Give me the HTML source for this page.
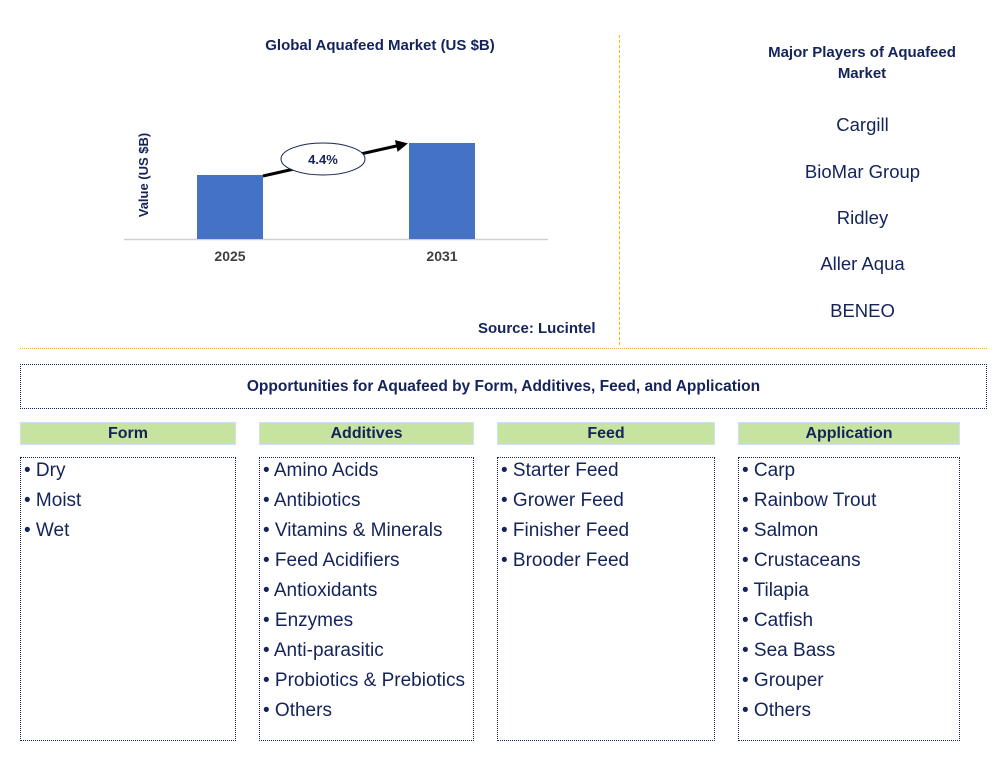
<!DOCTYPE html>
<html><head><meta charset="utf-8"><style>
body{margin:0;width:1007px;height:757px;background:#fff;font-family:"Liberation Sans",Arial,sans-serif;position:relative;overflow:hidden;color:#14235a}
.abs{position:absolute}
.hdr{position:absolute;top:422px;height:23px;background:#c6e3a0;border:1px solid #cfe2f3;box-sizing:border-box;font-weight:bold;font-size:16px;text-align:center;line-height:22px;color:#14235a}
.box{position:absolute;top:457px;height:284px;border:1.5px dotted #14235a;box-sizing:border-box;padding-top:0px}
.box div{font-size:19px;height:30px;line-height:25px;padding-left:3px;white-space:nowrap}
.pl{position:absolute;left:720px;width:285px;text-align:center;font-size:18.5px}
</style></head><body>
<div class="abs" style="left:200px;top:37px;width:360px;text-align:center;font-weight:bold;font-size:15px">Global Aquafeed Market (US $B)</div>
<svg class="abs" style="left:0;top:0" width="620" height="345">
<text x="148" y="175" transform="rotate(-90 148 175)" text-anchor="middle" font-weight="bold" font-size="13" fill="#14235a">Value (US $B)</text>
<line x1="124" y1="239.5" x2="548" y2="239.5" stroke="#d0d0d0" stroke-width="1.5"/>
<g id="bars"></g>
<text x="478" y="333" font-weight="bold" font-size="15" fill="#14235a">Source: Lucintel</text>
</svg>
<div class="abs" style="left:619px;top:35px;height:310px;border-left:1.5px dashed #f5b800"></div>
<div class="abs" style="left:20px;top:348px;width:967px;border-top:1.5px dotted #f5b800"></div>
<div class="abs" style="left:752px;top:42px;width:220px;text-align:center;font-weight:bold;font-size:15px;line-height:21px">Major Players of Aquafeed Market</div>
<div class="pl" style="top:114px">Cargill</div>
<div class="pl" style="top:161px">BioMar Group</div>
<div class="pl" style="top:207px">Ridley</div>
<div class="pl" style="top:253px">Aller Aqua</div>
<div class="pl" style="top:300px">BENEO</div>
<div class="abs" style="left:20px;top:364px;width:967px;height:45px;border:1.5px dotted #14235a;box-sizing:border-box;text-align:center;font-weight:bold;font-size:15.5px;line-height:43px">Opportunities for Aquafeed by Form, Additives, Feed, and Application</div>
<div class="hdr" style="left:20px;width:216px">Form</div>
<div class="hdr" style="left:259px;width:215px">Additives</div>
<div class="hdr" style="left:497px;width:218px">Feed</div>
<div class="hdr" style="left:738px;width:222px">Application</div>
<div class="box" style="left:20px;width:216px"><div>• Dry</div><div>• Moist</div><div>• Wet</div></div>
<div class="box" style="left:259px;width:215px"><div>• Amino Acids</div><div>• Antibiotics</div><div>• Vitamins &amp; Minerals</div><div>• Feed Acidifiers</div><div>• Antioxidants</div><div>• Enzymes</div><div>• Anti-parasitic</div><div>• Probiotics &amp; Prebiotics</div><div>• Others</div></div>
<div class="box" style="left:497px;width:218px"><div>• Starter Feed</div><div>• Grower Feed</div><div>• Finisher Feed</div><div>• Brooder Feed</div></div>
<div class="box" style="left:738px;width:222px"><div>• Carp</div><div>• Rainbow Trout</div><div>• Salmon</div><div>• Crustaceans</div><div>• Tilapia</div><div>• Catfish</div><div>• Sea Bass</div><div>• Grouper</div><div>• Others</div></div>
<script>
const categories=["2025","2031"];
const values=[1.9,2.85];
const cagrLabel="4.4%";
const NS="http://www.w3.org/2000/svg";
const g=document.getElementById('bars');
const base=239,pxPer=96/2.85,bw=66;
const xc=i=>230+i*212;
const y=v=>base-v*pxPer;
function mk(t,a){const e=document.createElementNS(NS,t);for(const k in a)e.setAttribute(k,a[k]);g.appendChild(e);return e;}
categories.forEach((c,i)=>{
 const r=mk('rect',{x:xc(i)-bw/2,y:y(values[i]),width:bw,height:base-y(values[i]),fill:'#4472c4'});
 
 
 const t=mk('text',{x:xc(i),y:261,'text-anchor':'middle','font-weight':'bold','font-size':14,fill:'#404040'});
 t.textContent=c;
 
 
});
const x1=xc(0)+bw/2,y1=y(values[0])+1,x2=xc(1)-bw/2-4,y2=y(values[1])+1;
mk('defs',{}).innerHTML='<marker id="ah" markerWidth="4" markerHeight="4" refX="3" refY="2" orient="auto"><path d="M0,0L4,2L0,4z" fill="#000"/></marker>';
const ln=mk('line',{x1:x1,y1:y1,x2:x2,y2:y2,stroke:'#000','stroke-width':3,'marker-end':'url(#ah)'});


const cx=(x1+x2)/2-11,cy=(y1+y2)/2-1;
const el=mk('ellipse',{cx:cx,cy:cy,rx:42,ry:16,fill:'#fff',stroke:'#14235a','stroke-width':1});


const ct=mk('text',{x:cx,y:cy+5,'text-anchor':'middle','font-weight':'bold','font-size':13,fill:'#14235a'});
ct.textContent=cagrLabel;


</script>
</body></html>
